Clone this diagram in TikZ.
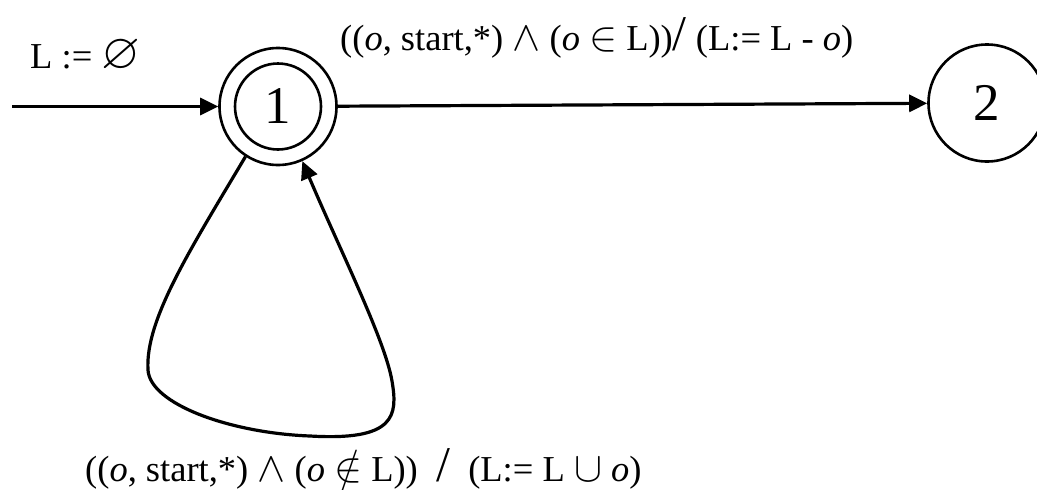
\RequirePackage{fix-cm}
\documentclass[tikz,border=0pt]{standalone}
\usepackage{amssymb}
\usepackage{fontspec}
\setmainfont{Liberation Serif}
\usetikzlibrary{arrows.meta}
\newcommand{\opsym}[1]{{\fontsize{42}{44}\selectfont$#1$}}
\newcommand{\tallslash}{\smash{\fontsize{50}{50}\selectfont /}}
\begin{document}
\begin{tikzpicture}[x=1pt, y=-1pt, >={Triangle[length=18pt,width=17pt]},
  state/.style={draw, circle, line width=2.6pt, minimum size=117pt, inner sep=0pt,
    font=\fontsize{53}{60}\selectfont},
  trans/.style={->, line width=3.2pt},
  lbl/.style={font=\fontsize{36.5}{43}\selectfont, inner sep=0pt}]
\useasboundingbox (0,0) rectangle (1037,490);
% states
\node[state] (s1) at (278,106.5) {};
\node[state, minimum size=86pt] (s1in) at (s1) {1};
\node[state] (s2) at (987,103) {2};
% transitions
\coordinate (init) at (12,106.5);
\draw[trans] (init) -- (s1);
\draw[trans] (s1) -- (s2);
\draw[trans] (s1.237) .. controls (190,250) and (145,320) .. (148,370)
  .. controls (150,404) and (230,433) .. (310,436)
  .. controls (395,441) and (398,416) .. (392,381)
  .. controls (385,340) and (340,250) .. (s1.294);
% labels
\node[lbl, anchor=base west] (linit) at (30,68) {L :=\ {\fontsize{50}{50}\selectfont$\varnothing$}};
\node[lbl, anchor=base west] (lexit) at (340,50) {((\textit{o}, start,*) \opsym{\wedge} (\textit{o} \opsym{\in} L))\tallslash\ (L:= L - \textit{o})};
\node[lbl, anchor=base west] (lloop) at (85,481) {((\textit{o}, start,*) \opsym{\wedge} (\textit{o} \opsym{\notin} L))\ \ \tallslash\ \ (L:= L \opsym{\cup} \textit{o})};
\end{tikzpicture}
\end{document}
